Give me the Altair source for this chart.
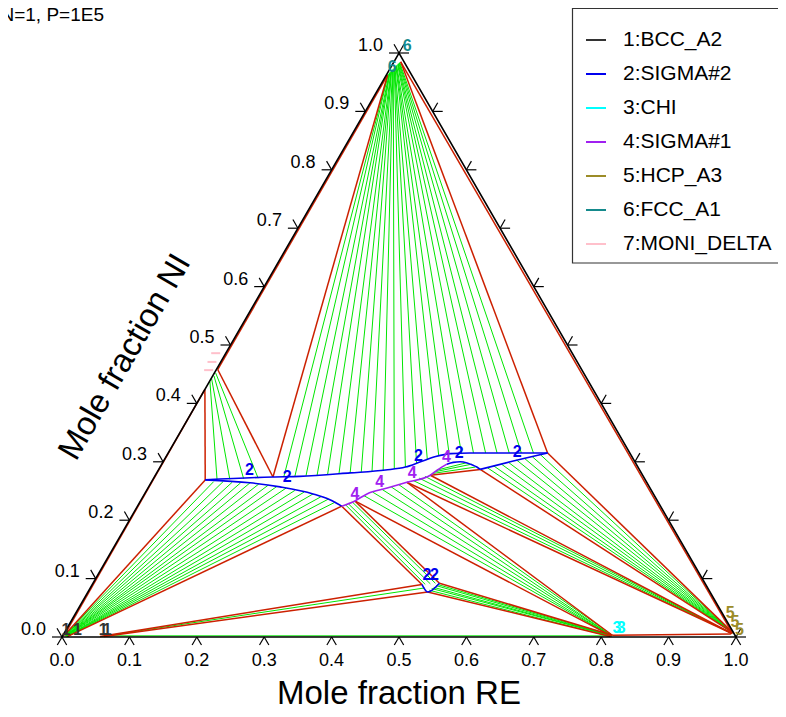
import altair as alt
import pandas as pd

FONT = "Liberation Sans"

# ---------------- axis ticks ----------------
tick_values = [0.0, 0.1, 0.2, 0.3, 0.4, 0.5, 0.6, 0.7, 0.8, 0.9, 1.0]
tick_labels = ["0.0", "0.1", "0.2", "0.3", "0.4", "0.5", "0.6", "0.7", "0.8", "0.9", "1.0"]

# ---------------- phases (legend) ----------------
phase_names = ["1:BCC_A2", "2:SIGMA#2", "3:CHI", "4:SIGMA#1", "5:HCP_A3", "6:FCC_A1", "7:MONI_DELTA"]
phase_colors = ["#333333", "#0000ee", "#00ffff", "#a020f0", "#9c8c28", "#158a8c", "#ffc0cb"]

# ---------------- phase boundaries, (x RE, x NI) ----------------
sigma2_upper = [(0.078, 0.269), (0.176, 0.274), (0.215, 0.275), (0.287, 0.281), (0.337, 0.286),
                (0.364, 0.291), (0.382, 0.300), (0.400, 0.309), (0.420, 0.314), (0.448, 0.315),
                (0.563, 0.315)]
sigma2_lower = [(0.078, 0.269), (0.147, 0.264), (0.195, 0.257), (0.250, 0.245), (0.280, 0.235),
                (0.303, 0.224)]
sigma1_lower = [(0.303, 0.224), (0.318, 0.233), (0.330, 0.245), (0.355, 0.255), (0.379, 0.265),
                (0.408, 0.277), (0.414, 0.286), (0.423, 0.296)]
sigma2_arc = [(0.423, 0.296), (0.431, 0.299), (0.441, 0.300), (0.452, 0.298), (0.463, 0.294),
              (0.470, 0.291), (0.477, 0.287)]
sigma2_right = [(0.477, 0.287), (0.515, 0.300), (0.563, 0.315)]
sigma2_small = [(0.489, 0.090), (0.504, 0.077), (0.514, 0.092)]

# ---------------- tie lines (end a, end b) ----------------
fcc_ends = [(0.002, 0.963), (0.002, 0.964), (0.003, 0.965), (0.003, 0.966), (0.003, 0.967),
            (0.004, 0.968), (0.004, 0.969), (0.004, 0.970), (0.005, 0.971), (0.005, 0.972),
            (0.005, 0.973), (0.006, 0.974), (0.006, 0.975), (0.006, 0.976), (0.007, 0.977),
            (0.007, 0.978), (0.007, 0.979), (0.008, 0.980), (0.008, 0.981), (0.008, 0.982),
            (0.009, 0.982), (0.009, 0.983), (0.009, 0.984)]
fcc_sigma_ends = [(0.192, 0.274), (0.208, 0.275), (0.224, 0.276), (0.240, 0.277), (0.255, 0.278),
                  (0.271, 0.280), (0.287, 0.281), (0.303, 0.282), (0.318, 0.284), (0.334, 0.285),
                  (0.349, 0.288), (0.364, 0.291), (0.377, 0.298), (0.390, 0.304), (0.404, 0.310),
                  (0.418, 0.313), (0.435, 0.315), (0.453, 0.315), (0.471, 0.315), (0.488, 0.315),
                  (0.506, 0.315), (0.524, 0.315), (0.542, 0.315)]

delta_ends = [(0.001, 0.437), (0.001, 0.442), (0.002, 0.447), (0.002, 0.452)]
delta_sigma_ends = [(0.095, 0.270), (0.114, 0.270), (0.134, 0.271), (0.155, 0.272)]

bcc_ends = [(0.002, 0.003), (0.0025, 0.003), (0.003, 0.003), (0.0035, 0.003), (0.004, 0.002),
            (0.0045, 0.002), (0.005, 0.002), (0.005, 0.002), (0.0055, 0.002), (0.006, 0.002),
            (0.0065, 0.001), (0.007, 0.001), (0.007, 0.001), (0.0075, 0.001), (0.008, 0.001)]
bcc_sigma_ends = [(0.092, 0.266), (0.106, 0.266), (0.120, 0.265), (0.133, 0.264), (0.147, 0.264),
                  (0.161, 0.262), (0.176, 0.260), (0.190, 0.258), (0.205, 0.255), (0.220, 0.251),
                  (0.235, 0.248), (0.250, 0.245), (0.264, 0.240), (0.277, 0.236), (0.290, 0.231)]

sig1_sig2_a = [(0.308, 0.226), (0.311, 0.228), (0.314, 0.232)]
sig1_sig2_b = [(0.494, 0.090), (0.501, 0.091), (0.508, 0.092)]

sig1_chi_a = [(0.327, 0.242), (0.337, 0.248), (0.348, 0.253), (0.360, 0.257), (0.369, 0.261)]
sig1_chi_b = [(0.814, 0.002), (0.814, 0.002), (0.815, 0.002), (0.815, 0.002), (0.815, 0.003)]

sig2_chi_a = [(0.505, 0.080), (0.507, 0.083), (0.509, 0.085), (0.511, 0.088), (0.512, 0.090)]
sig2_chi_b = [(0.813, 0.001), (0.814, 0.002), (0.814, 0.002), (0.815, 0.002), (0.815, 0.003)]

bcc_sig2_a = [(0.059, 0.001), (0.062, 0.002)]
bcc_sig2_b = [(0.496, 0.084), (0.812, 0.002)]

sig1_hcp_a = [(0.387, 0.268), (0.394, 0.272), (0.401, 0.275)]
sig1_hcp_b = [(0.991, 0.006), (0.991, 0.006), (0.991, 0.006)]

sig2_hcp_a = [(0.486, 0.290), (0.494, 0.293), (0.504, 0.296), (0.513, 0.299), (0.523, 0.303),
              (0.533, 0.306), (0.543, 0.309), (0.554, 0.312)]
sig2_hcp_b = [(0.992, 0.007)] * 8

lens_a = [(0.410, 0.280), (0.412, 0.283), (0.414, 0.286)]
lens_b = [(0.468, 0.291), (0.460, 0.296), (0.450, 0.298)]

# three-phase triangle edges (red)
red_lines = [
    (0.002, 0.962, 0.176, 0.274), (0.002, 0.962, 0.002, 0.458), (0.002, 0.458, 0.176, 0.274),
    (0.010, 0.985, 0.563, 0.315), (0.010, 0.985, 0.990, 0.008), (0.563, 0.315, 0.992, 0.007),
    (0.000, 0.424, 0.078, 0.269), (0.078, 0.269, 0.002, 0.003), (0.000, 0.424, 0.002, 0.003),
    (0.303, 0.224, 0.008, 0.001), (0.303, 0.224, 0.489, 0.090), (0.056, 0.001, 0.489, 0.090),
    (0.062, 0.001, 0.504, 0.077), (0.318, 0.233, 0.514, 0.092), (0.318, 0.233, 0.814, 0.002),
    (0.514, 0.092, 0.815, 0.003), (0.504, 0.077, 0.813, 0.001), (0.379, 0.265, 0.815, 0.003),
    (0.379, 0.265, 0.991, 0.006), (0.408, 0.277, 0.991, 0.006), (0.408, 0.277, 0.477, 0.287),
    (0.477, 0.287, 0.992, 0.007), (0.815, 0.003, 0.990, 0.005),
]

# ---------------- phase labels ----------------
label_phase = ["1:BCC_A2"] * 4 + ["2:SIGMA#2"] * 7 + ["3:CHI"] * 2 + ["4:SIGMA#1"] * 4 \
    + ["5:HCP_A3"] * 3 + ["6:FCC_A1"] * 2
label_re = [0.000, 0.017, 0.055, 0.061,
            0.135, 0.197, 0.374, 0.432, 0.517, 0.488, 0.499,
            0.816, 0.822,
            0.312, 0.339, 0.379, 0.416,
            0.971, 0.986, 0.999,
            0.006, 0.002]
label_ni = [0.012, 0.012, 0.012, 0.012,
            0.286, 0.274, 0.310, 0.315, 0.317, 0.107, 0.107,
            0.015, 0.015,
            0.245, 0.265, 0.281, 0.309,
            0.041, 0.025, 0.012,
            1.012, 0.976]
delta_mark_re = [-0.015, -0.013, -0.011]
delta_mark_ni = [0.486, 0.471, 0.457]

# ---------------- build tables ----------------
XS = alt.Scale(domain=[0, 1], nice=False, zero=False)
YS = alt.Scale(domain=[0, 1], nice=False, zero=False)


def pairs_df(a, b):
    return pd.DataFrame({"re1": [p[0] for p in a], "ni1": [p[1] for p in a],
                         "re2": [p[0] for p in b], "ni2": [p[1] for p in b]})


green_df = pd.concat([
    pairs_df(fcc_ends, fcc_sigma_ends), pairs_df(delta_ends, delta_sigma_ends),
    pairs_df(bcc_ends, bcc_sigma_ends), pairs_df(sig1_sig2_a, sig1_sig2_b),
    pairs_df(sig1_chi_a, sig1_chi_b), pairs_df(sig2_chi_a, sig2_chi_b),
    pairs_df(bcc_sig2_a, bcc_sig2_b), pairs_df(sig1_hcp_a, sig1_hcp_b),
    pairs_df(sig2_hcp_a, sig2_hcp_b), pairs_df(lens_a, lens_b)], ignore_index=True)
red_df = pd.DataFrame(red_lines, columns=["re1", "ni1", "re2", "ni2"])


def seg_layer(df, color, width):
    return alt.Chart(df).transform_calculate(
        xa="datum.re1 + datum.ni1 / 2", xb="datum.re2 + datum.ni2 / 2"
    ).mark_rule(color=color, strokeWidth=width).encode(
        x=alt.X("xa:Q", scale=XS, axis=None), y=alt.Y("ni1:Q", scale=YS, axis=None),
        x2="xb:Q", y2="ni2:Q")


curve_rows = []
for cid, ph, pts in [("u", "2:SIGMA#2", sigma2_upper), ("l", "2:SIGMA#2", sigma2_lower),
                     ("p", "4:SIGMA#1", sigma1_lower), ("a", "2:SIGMA#2", sigma2_arc),
                     ("r", "2:SIGMA#2", sigma2_right), ("s", "2:SIGMA#2", sigma2_small)]:
    for k, (re, ni) in enumerate(pts):
        curve_rows.append({"curve": cid, "k": k, "re": re, "ni": ni, "phase": ph})
curve_df = pd.DataFrame(curve_rows)

legend = alt.Legend(orient="none", legendX=523, legendY=-24, title=None, symbolType="stroke",
                    symbolSize=400, symbolStrokeWidth=2, labelFont=FONT, labelFontSize=21,
                    labelColor="black", labelOffset=16, rowPadding=13, padding=0, labelLimit=400)

curves = alt.Chart(curve_df).transform_calculate(xc="datum.re + datum.ni / 2").mark_line(
    strokeWidth=1.6, interpolate="monotone").encode(
    x=alt.X("xc:Q", scale=XS, axis=None), y=alt.Y("ni:Q", scale=YS, axis=None),
    detail="curve:N", order="k:Q",
    stroke=alt.Stroke("phase:N", scale=alt.Scale(domain=phase_names, range=phase_colors),
                      legend=legend))

label_df = pd.DataFrame({"re": label_re, "ni": label_ni, "phase": label_phase})
label_df["txt"] = label_df["phase"].str[0]
labels = alt.Chart(label_df).transform_calculate(xc="datum.re + datum.ni / 2").mark_text(
    font=FONT, fontSize=16, fontWeight="bold", align="center", baseline="middle").encode(
    x=alt.X("xc:Q", scale=XS, axis=None), y=alt.Y("ni:Q", scale=YS, axis=None), text="txt:N",
    color=alt.Color("phase:N", scale=alt.Scale(domain=phase_names, range=phase_colors),
                    legend=None))

delta_df = pd.DataFrame({"re": delta_mark_re, "ni": delta_mark_ni})
delta_marks = alt.Chart(delta_df).transform_calculate(xc="datum.re + datum.ni / 2").mark_point(
    shape="stroke", size=80, color="#ffc0cb", strokeWidth=2, filled=False, opacity=1).encode(
    x=alt.X("xc:Q", scale=XS, axis=None), y=alt.Y("ni:Q", scale=YS, axis=None))

# triangle frame
frame_df = pd.DataFrame({"re": [0.0, 1.0, 0.0, 0.0], "ni": [0.0, 0.0, 1.0, 0.0], "k": [0, 1, 2, 3]})
frame = alt.Chart(frame_df).transform_calculate(xc="datum.re + datum.ni / 2").mark_line(
    color="black", strokeWidth=1.6).encode(
    x=alt.X("xc:Q", scale=XS, axis=None), y=alt.Y("ni:Q", scale=YS, axis=None), order="k:Q")

# tick marks (two short strokes per tick, parallel to the other two sides)
PX = 1 / 674.0
PY = 1 / 584.0
tick_rows = []
for v in tick_values:
    bx, by = v, 0.0
    tick_rows += [(bx, by, bx - 4.7 * PX, by - 8 * PY), (bx, by, bx + 4.7 * PX, by - 8 * PY)]
    lx, ly = v / 2, v
    tick_rows += [(lx, ly, lx - 10 * PX, ly), (lx, ly, lx - 5 * PX, ly + 8.7 * PY)]
    rx, ry = 1 - v / 2, v
    tick_rows += [(rx, ry, rx + 10 * PX, ry), (rx, ry, rx + 5 * PX, ry + 8.7 * PY)]
tick_df = pd.DataFrame(tick_rows, columns=["x1", "y1", "x2", "y2"])
ticks = alt.Chart(tick_df).mark_rule(color="black", strokeWidth=1.2).encode(
    x=alt.X("x1:Q", scale=XS, axis=None), y=alt.Y("y1:Q", scale=YS, axis=None),
    x2="x2:Q", y2="y2:Q")

tl_df = pd.DataFrame({"v": tick_values, "lab": tick_labels})
bottom_labels = alt.Chart(tl_df).mark_text(
    font=FONT, fontSize=18, align="center", baseline="middle", dy=24).encode(
    x=alt.X("v:Q", scale=XS, axis=None), y=alt.Y("zero:Q", scale=YS, axis=None), text="lab:N"
).transform_calculate(zero="0")
left_labels = alt.Chart(tl_df).transform_calculate(xl="datum.v / 2").mark_text(
    font=FONT, fontSize=18, align="right", baseline="middle", dx=-16, dy=-7).encode(
    x=alt.X("xl:Q", scale=XS, axis=None), y=alt.Y("v:Q", scale=YS, axis=None), text="lab:N")

one = pd.DataFrame({"a": [0]})
title_re = alt.Chart(one).mark_text(font=FONT, fontSize=33, align="center",
                                    baseline="alphabetic").encode(
    x=alt.value(337), y=alt.value(651), text=alt.value("Mole fraction RE"))
title_ni = alt.Chart(one).mark_text(font=FONT, fontSize=33, align="center", baseline="middle",
                                    angle=300).encode(
    x=alt.value(63), y=alt.value(304), text=alt.value("Mole fraction NI"))
header = alt.Chart(one).mark_text(font=FONT, fontSize=19, align="right",
                                  baseline="alphabetic").encode(
    x=alt.value(42), y=alt.value(-32), text=alt.value("T=1273.15, N=1, P=1E5"))
legend_box = alt.Chart(one).mark_rect(fill="white", stroke="#333333", strokeWidth=1.2).encode(
    x=alt.value(510.5), x2=alt.value(780), y=alt.value(-44.5), y2=alt.value(210))

chart = alt.layer(
    legend_box,
    seg_layer(green_df, "#00e600", 1.0),
    seg_layer(red_df, "#cc2000", 1.5),
    curves,
    frame,
    ticks,
    bottom_labels,
    left_labels,
    labels,
    delta_marks,
    title_re,
    title_ni,
    header,
).properties(
    width=674, height=584,
    padding={"left": 54, "top": 45, "right": 42, "bottom": 71},
    autosize=alt.AutoSizeParams(type="none"),
    background="white",
).configure_view(stroke=None)

chart.save("out.html", embed_options={"renderer": "svg", "actions": False})
